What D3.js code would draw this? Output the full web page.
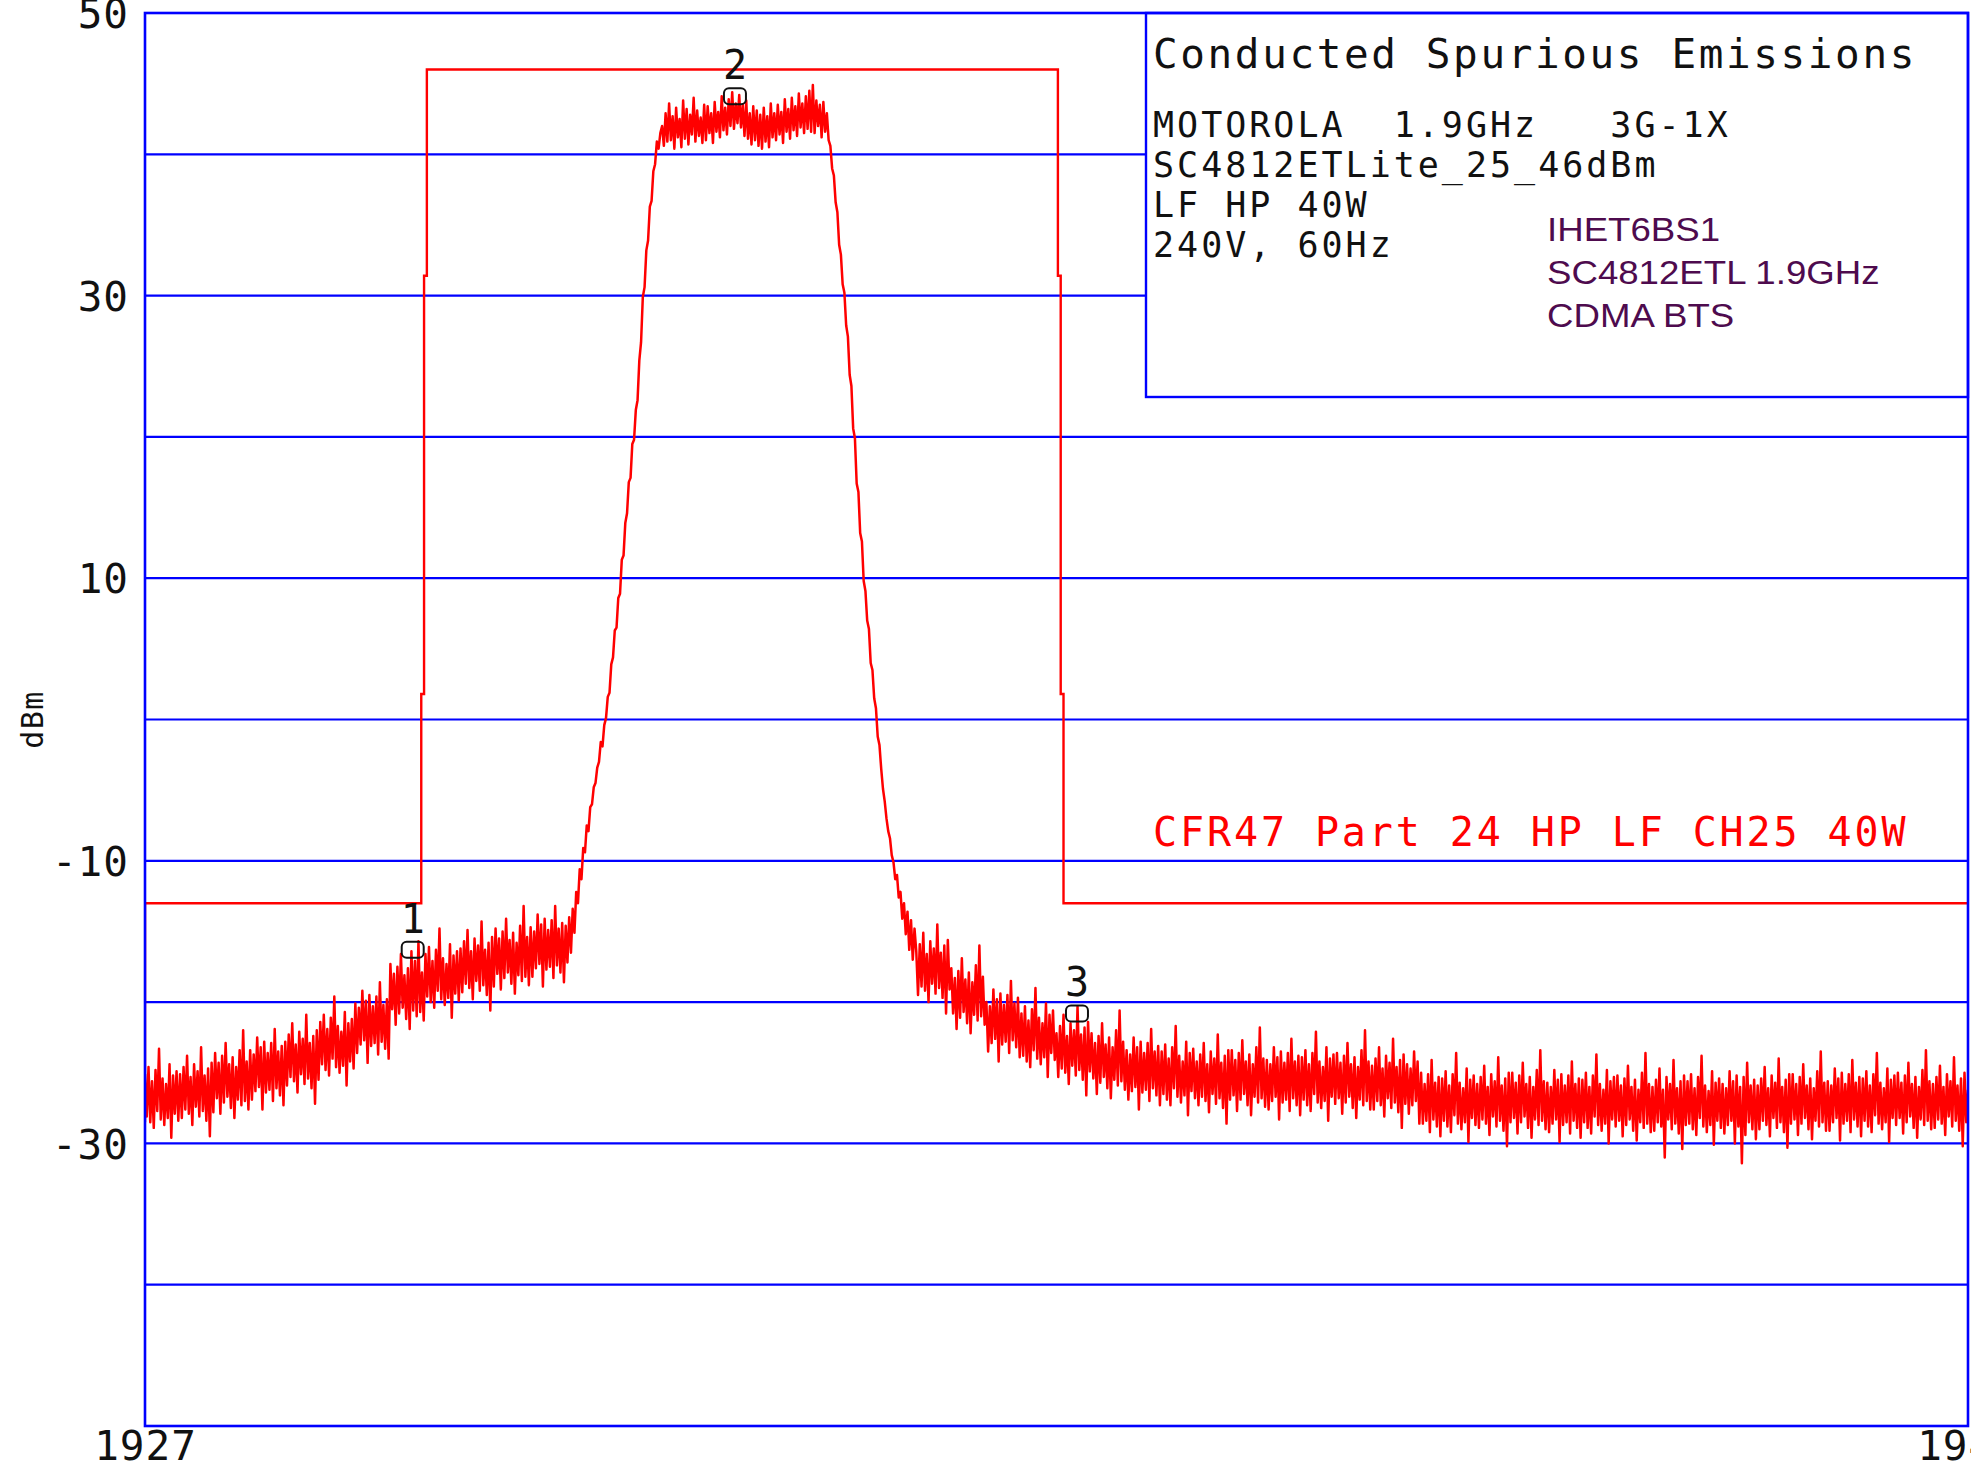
<!DOCTYPE html>
<html>
<head>
<meta charset="utf-8">
<script src="https://cdn.jsdelivr.net/npm/d3@7"></script>
<style>
    html, body { margin: 0; padding: 0; background: #fff; }
    svg { display: block; overflow: hidden; }
    .plotter { font-family: "DejaVu Sans Mono", "Liberation Mono", monospace; fill: #111; white-space: pre; }
    .note { font-family: "Liberation Sans", Arial, sans-serif; fill: #4e0b4e; }
</style>
</head>
<body>
<div id="chart"></div>
<script>
(function () {
    "use strict";

    const width = 1971;
    const height = 1468;

    // Frequency span (MHz) and level span (dBm) of the analyser screen.
    const freqStartMHz = 1927;
    const freqEndMHz = 1940;
    const levelMinDbm = -50;
    const levelMaxDbm = 50;

    const traceStepMHz = 0.0125;
    const traceDbm = [
        -25.1, -28.1, -24.6, -28.5, -25.6, -28.9, -24.8, -27.7, -23.3, -28.3, -25.4, -28.7, -25.8, -28.2, -24.4, -29.6, -25.2, -27.9, -24.9, -28.4,
        -25.1, -28.2, -24.6, -27.6, -23.8, -27.9, -25.3, -28.7, -24.4, -27.4, -24.9, -28.1, -23.2, -27.7, -25.2, -28.4, -24.7, -29.5, -24.3, -27.8,
        -23.6, -26.8, -24.3, -27.9, -23.8, -27.1, -22.9, -26.7, -24.4, -27.5, -23.9, -28.2, -24.6, -26.9, -23.4, -27.3, -22.0, -27.0, -24.2, -27.6,
        -23.4, -26.9, -23.7, -26.3, -22.5, -26.0, -23.2, -27.6, -22.8, -26.4, -23.6, -26.2, -22.9, -27.0, -21.9, -26.1, -23.5, -26.6, -23.1, -27.3,
        -22.8, -25.9, -22.3, -25.3, -21.5, -25.6, -23.0, -26.4, -22.1, -25.1, -22.6, -25.8, -20.9, -25.4, -22.9, -26.1, -22.4, -27.2, -22.0, -25.5,
        -21.4, -24.4, -20.9, -24.8, -21.9, -25.2, -21.1, -24.0, -19.6, -24.6, -21.7, -25.0, -22.1, -24.5, -20.7, -25.9, -21.5, -24.2, -21.2, -24.7,
        -20.1, -23.6, -20.4, -23.0, -19.2, -22.7, -19.9, -24.3, -19.5, -23.1, -20.3, -22.9, -19.6, -23.7, -18.6, -22.8, -20.2, -23.3, -19.8, -24.0,
        -17.3, -20.5, -18.0, -21.6, -17.5, -20.8, -16.6, -20.4, -18.1, -21.2, -17.6, -21.9, -16.4, -20.6, -17.1, -21.0, -15.7, -20.7, -17.9, -21.3,
        -16.6, -19.6, -16.1, -20.0, -17.1, -20.4, -16.3, -19.2, -14.8, -19.8, -16.9, -20.2, -17.3, -19.7, -15.9, -21.1, -16.7, -19.4, -16.4, -19.9,
        -16.2, -19.3, -15.7, -18.7, -14.9, -19.0, -16.4, -19.8, -15.5, -18.5, -16.0, -19.2, -14.3, -18.8, -16.3, -19.5, -15.8, -20.6, -15.4, -18.9,
        -14.8, -18.0, -15.5, -19.1, -15.0, -18.3, -14.1, -17.9, -15.6, -18.7, -15.1, -19.4, -15.8, -18.1, -14.6, -18.5, -13.2, -18.2, -15.4, -18.8,
        -14.7, -18.2, -15.0, -17.6, -13.8, -17.3, -14.5, -18.9, -14.1, -17.7, -14.9, -17.5, -14.2, -18.3, -13.2, -17.4, -14.8, -17.9, -14.4, -18.6,
        -14.6, -17.2, -14.0, -16.5, -13.4, -15.1, -12.2, -13.0, -10.6, -11.3, -9.1, -9.4, -7.5, -7.9, -6.2, -6.0, -4.8, -4.5, -3.4, -3.0,
        -1.6, -1.9, -0.4, 0.1, 1.6, 1.9, 3.9, 4.4, 6.3, 6.5, 8.6, 8.9, 11.3, 11.6, 13.9, 14.6, 16.8, 17.1, 19.5, 19.8,
        21.9, 22.6, 25.4, 26.7, 29.9, 30.6, 33.2, 33.9, 36.3, 36.7, 38.8, 39.3, 40.9, 40.4, 41.5, 42.0, 40.6, 42.9, 40.9, 43.6,
        41.0, 42.7, 40.4, 43.3, 41.2, 42.5, 40.5, 43.8, 41.1, 43.2, 40.7, 42.8, 41.4, 44.0, 40.9, 43.1, 41.3, 42.6, 40.8, 43.5,
        41.0, 43.4, 41.5, 42.9, 40.8, 43.7, 41.6, 43.0, 41.2, 44.1, 41.7, 43.3, 41.4, 43.9, 42.0, 44.4, 41.8, 43.6, 42.2, 44.2,
        41.9, 43.5, 41.3, 43.8, 41.1, 42.9, 40.7, 43.4, 41.0, 43.1, 40.6, 42.8, 40.4, 43.3, 40.9, 42.7, 40.5, 43.6, 41.2, 42.9,
        41.0, 43.5, 41.4, 43.0, 40.8, 43.9, 41.6, 43.2, 41.1, 44.0, 41.7, 43.4, 41.3, 44.3, 41.9, 43.6, 41.5, 44.1, 41.8, 44.5,
        41.6, 44.9, 41.5, 43.8, 42.0, 43.5, 41.2, 43.7, 41.6, 42.9, 41.0, 40.6, 39.0, 38.5, 36.6, 35.9, 33.6, 32.9, 30.8, 30.2,
        27.9, 27.1, 24.4, 23.6, 20.6, 19.9, 16.7, 16.1, 13.2, 12.6, 9.8, 9.1, 7.0, 6.4, 4.0, 3.5, 1.5, 0.8, -1.2, -1.8,
        -3.5, -4.9, -5.8, -7.0, -7.9, -8.4, -9.6, -10.1, -11.3, -11.0, -12.6, -12.2, -14.1, -13.0, -15.2, -13.6, -16.3, -14.2, -17.0, -14.8,
        -16.4, -19.5, -15.9, -18.9, -15.1, -19.2, -16.6, -20.0, -15.7, -18.7, -16.2, -19.4, -14.5, -19.0, -16.5, -19.7, -16.0, -20.8, -15.6, -19.1,
        -17.6, -20.8, -18.3, -21.9, -17.8, -21.1, -16.9, -20.7, -18.4, -21.5, -17.9, -22.2, -18.6, -20.9, -17.4, -21.3, -16.0, -21.0, -18.2, -21.6,
        -20.0, -23.5, -20.3, -22.9, -19.1, -22.6, -19.8, -24.2, -19.4, -23.0, -20.2, -22.8, -19.5, -23.6, -18.5, -22.7, -20.1, -23.2, -19.7, -23.9,
        -20.8, -23.8, -20.3, -24.2, -21.3, -24.6, -20.5, -23.4, -19.0, -24.0, -21.1, -24.4, -21.5, -23.9, -20.1, -25.3, -20.9, -23.6, -20.6, -24.1,
        -22.2, -25.3, -21.7, -24.7, -20.9, -25.0, -22.4, -25.8, -21.5, -24.5, -22.0, -25.2, -20.3, -24.8, -22.3, -25.5, -21.8, -26.6, -21.4, -24.9,
        -22.2, -25.4, -22.9, -26.5, -22.4, -25.7, -21.5, -25.3, -23.0, -26.1, -22.5, -26.8, -23.2, -25.5, -22.0, -25.9, -20.6, -25.6, -22.8, -26.2,
        -23.4, -26.9, -23.7, -26.3, -22.5, -26.0, -23.2, -27.6, -22.8, -26.4, -23.6, -26.2, -22.9, -27.0, -21.9, -26.1, -23.5, -26.6, -23.1, -27.3,
        -23.5, -26.5, -23.0, -26.9, -24.0, -27.3, -23.2, -26.1, -21.7, -26.7, -23.8, -27.1, -24.2, -26.6, -22.8, -28.0, -23.6, -26.3, -23.3, -26.8,
        -24.2, -27.3, -23.7, -26.7, -22.9, -27.0, -24.4, -27.8, -23.5, -26.5, -24.0, -27.2, -22.3, -26.8, -24.3, -27.5, -23.8, -28.6, -23.4, -26.9,
        -23.4, -26.6, -24.1, -27.7, -23.6, -26.9, -22.7, -26.5, -24.2, -27.3, -23.7, -28.0, -24.4, -26.7, -23.2, -27.1, -21.8, -26.8, -24.0, -27.4,
        -24.1, -27.6, -24.4, -27.0, -23.2, -26.7, -23.9, -28.3, -23.5, -27.1, -24.3, -26.9, -23.6, -27.7, -22.6, -26.8, -24.2, -27.3, -23.8, -28.0,
        -23.9, -26.9, -23.4, -27.3, -24.4, -27.7, -23.6, -26.5, -22.1, -27.1, -24.2, -27.5, -24.6, -27.0, -23.2, -28.4, -24.0, -26.7, -23.7, -27.2,
        -23.6, -26.8, -24.3, -27.9, -23.8, -27.1, -22.9, -26.7, -24.4, -27.5, -23.9, -28.2, -24.6, -26.9, -23.4, -27.3, -22.0, -27.0, -24.2, -27.6,
        -24.5, -27.6, -24.0, -27.0, -23.2, -27.3, -24.7, -28.1, -23.8, -26.8, -24.3, -27.5, -22.6, -27.1, -24.6, -27.8, -24.1, -28.9, -23.7, -27.2,
        -24.4, -27.9, -24.7, -27.3, -23.5, -27.0, -24.2, -28.6, -25.0, -28.6, -25.8, -28.4, -25.1, -29.2, -24.1, -28.3, -25.7, -28.8, -25.3, -29.5,
        -25.4, -28.4, -24.9, -28.8, -25.9, -29.2, -25.1, -28.0, -23.6, -28.6, -25.7, -29.0, -26.1, -28.5, -24.7, -29.9, -25.5, -28.2, -25.2, -28.7,
        -25.8, -28.9, -25.3, -28.3, -24.5, -28.6, -26.0, -29.4, -25.1, -28.1, -25.6, -28.8, -23.9, -28.4, -25.9, -29.1, -25.4, -30.2, -25.0, -28.5,
        -25.0, -28.2, -25.7, -29.3, -25.2, -28.5, -24.3, -28.1, -25.8, -28.9, -25.3, -29.6, -26.0, -28.3, -24.8, -28.7, -23.4, -28.4, -25.6, -29.0,
        -25.7, -29.2, -26.0, -28.6, -24.8, -28.3, -25.5, -29.9, -25.1, -28.7, -25.9, -28.5, -25.2, -29.3, -24.2, -28.4, -25.8, -28.9, -25.4, -29.6,
        -25.5, -28.5, -25.0, -28.9, -26.0, -29.3, -25.2, -28.1, -23.7, -28.7, -25.8, -29.1, -26.2, -28.6, -24.8, -30.0, -25.6, -28.3, -25.3, -28.8,
        -25.2, -28.4, -25.9, -29.5, -25.4, -28.7, -24.5, -28.3, -26.0, -29.1, -25.5, -29.8, -26.2, -28.5, -25.0, -28.9, -23.6, -28.6, -25.8, -29.2,
        -26.0, -29.1, -25.5, -28.5, -24.7, -28.8, -26.2, -31.0, -25.3, -28.3, -25.8, -29.0, -24.1, -28.6, -26.1, -29.3, -25.6, -30.4, -25.2, -28.7,
        -25.6, -28.6, -25.1, -29.0, -26.1, -29.4, -25.3, -28.2, -23.8, -28.8, -25.9, -29.2, -26.3, -28.7, -24.9, -30.1, -25.7, -28.4, -25.4, -28.9,
        -25.8, -29.3, -26.1, -28.7, -24.9, -28.4, -25.6, -30.0, -25.2, -28.8, -26.0, -31.4, -25.3, -29.4, -24.3, -28.5, -25.9, -29.0, -25.5, -29.7,
        -25.9, -29.0, -25.4, -28.4, -24.6, -28.7, -26.1, -29.5, -25.2, -28.2, -25.7, -28.9, -24.0, -28.5, -26.0, -29.2, -25.5, -30.3, -25.1, -28.6,
        -25.1, -28.3, -25.8, -29.4, -25.3, -28.6, -24.4, -28.2, -25.9, -29.0, -25.4, -29.7, -26.1, -28.4, -24.9, -28.8, -23.5, -28.5, -25.7, -29.1,
        -25.6, -29.1, -25.9, -28.5, -24.7, -28.2, -25.4, -29.8, -25.0, -28.6, -25.8, -28.4, -25.1, -29.2, -24.1, -28.3, -25.7, -28.8, -25.3, -29.5,
        -25.4, -28.4, -24.9, -28.8, -25.9, -29.2, -25.1, -28.0, -23.6, -28.6, -25.7, -29.0, -26.1, -28.5, -24.7, -29.9, -25.5, -28.2, -25.2, -28.7,
        -25.0, -28.2, -25.7, -29.3, -25.2, -28.5, -24.3, -28.1, -25.8, -28.9, -25.3, -29.6, -26.0, -28.3, -24.8, -28.7, -23.4, -28.4, -25.6, -29.0,
        -25.8, -28.9, -25.3, -28.3, -24.5, -28.6, -26.0, -29.4, -25.1, -28.1, -25.6, -28.8, -23.9, -28.4, -25.9, -29.1, -25.4, -30.2, -25.0, -28.5,
        -26.2
    ];

    // Emission mask (CFR47 Part 24), corner points.
    const maskMHz = [1927, 1927, 1928.97, 1928.97, 1928.99, 1928.99, 1929.01, 1929.01,
        1933.51, 1933.51, 1933.53, 1933.53, 1933.55, 1933.55, 1940];
    const maskDbm = [-28.5, -13, -13, 1.8, 1.8, 31.4, 31.4, 46,
        46, 31.4, 31.4, 1.8, 1.8, -13, -13];

    const markerIds = ["1", "2", "3"];
    const markerMHz = [1928.909, 1931.207, 1933.646];
    const markerDbm = [-16.3, 44.1, -20.8];

    const yLabelTicks = [50, 30, 10, -10, -30];
    const xLabelTicks = [1927, 1940];

    const titleText = "Conducted Spurious Emissions";
    const infoLines = ["MOTOROLA  1.9GHz   3G-1X", "SC4812ETLite_25_46dBm", "LF HP 40W", "240V, 60Hz"];
    const noteLines = ["IHET6BS1", "SC4812ETL 1.9GHz", "CDMA BTS"];
    const limitLabel = "CFR47 Part 24 HP LF CH25 40W";
    const yAxisLabel = "dBm";

    const plot = { left: 145, right: 1968, top: 13, bottom: 1426 };
    const infoBox = { left: 1146, bottom: 397 };
    const blue = "#0000ff";
    const red = "#ff0000";

    const x = d3.scaleLinear([freqStartMHz, freqEndMHz], [plot.left, plot.right]);
    const y = d3.scaleLinear([levelMinDbm, levelMaxDbm], [plot.bottom, plot.top]);

    const svg = d3.select("#chart")
        .append("svg")
        .attr("width", width)
        .attr("height", height)
        .attr("viewBox", `0 0 ${width} ${height}`);

    svg.append("defs").append("clipPath")
        .attr("id", "plot-clip")
        .append("rect")
        .attr("x", plot.left)
        .attr("y", plot.top)
        .attr("width", plot.right - plot.left)
        .attr("height", plot.bottom - plot.top);

    // Horizontal graticule; lines inside the info box stop at its left edge.
    svg.append("g")
        .selectAll("line")
        .data(y.ticks(10))
        .join("line")
        .attr("x1", plot.left)
        .attr("x2", (d) => y(d) < infoBox.bottom ? infoBox.left : plot.right)
        .attr("y1", (d) => y(d))
        .attr("y2", (d) => y(d))
        .attr("stroke", blue)
        .attr("stroke-width", 2.2);

    // Axis labels
    const yAxis = svg.append("g")
        .attr("transform", `translate(${plot.left},0)`)
        .call(d3.axisLeft(y).tickValues(yLabelTicks).tickSize(0).tickPadding(16).tickFormat(String));
    yAxis.select(".domain").remove();
    yAxis.selectAll("text")
        .attr("class", "plotter")
        .attr("font-size", 41)
        .attr("letter-spacing", 1)
        .attr("dy", "0.36em")
        .attr("fill", "#111");

    const xAxis = svg.append("g")
        .attr("transform", `translate(0,${plot.bottom})`)
        .call(d3.axisBottom(x).tickValues(xLabelTicks).tickSize(0).tickPadding(5).tickFormat(String));
    xAxis.select(".domain").remove();
    xAxis.selectAll("text")
        .attr("class", "plotter")
        .attr("font-size", 41)
        .attr("letter-spacing", 1)
        .attr("fill", "#111");

    svg.append("text")
        .attr("class", "plotter")
        .attr("font-size", 30)
        .attr("letter-spacing", 1.5)
        .attr("text-anchor", "middle")
        .attr("transform", `translate(43,${y(0)}) rotate(-90)`)
        .text(yAxisLabel);

    // Limit mask and trace
    const lineGen = d3.line().x((d) => x(d[0])).y((d) => y(d[1]));

    const plotArea = svg.append("g").attr("clip-path", "url(#plot-clip)");

    plotArea.append("path")
        .datum(d3.zip(maskMHz, maskDbm))
        .attr("d", lineGen)
        .attr("fill", "none")
        .attr("stroke", red)
        .attr("stroke-width", 2.4);

    plotArea.append("path")
        .datum(traceDbm.map((v, i) => [freqStartMHz + i * traceStepMHz, v]))
        .attr("d", lineGen)
        .attr("fill", "none")
        .attr("stroke", red)
        .attr("stroke-width", 2.5)
        .attr("stroke-linejoin", "round");

    // Markers
    const marker = svg.append("g")
        .selectAll("g")
        .data(markerIds.map((id, i) => ({ id, f: markerMHz[i], v: markerDbm[i] })))
        .join("g")
        .attr("transform", (d) => `translate(${x(d.f)},${y(d.v)})`);

    marker.append("rect")
        .attr("x", -11)
        .attr("y", -8)
        .attr("width", 22)
        .attr("height", 16)
        .attr("rx", 5)
        .attr("fill", "none")
        .attr("stroke", "#111")
        .attr("stroke-width", 2);

    marker.append("text")
        .attr("class", "plotter")
        .attr("font-size", 40)
        .attr("text-anchor", "middle")
        .attr("y", -17)
        .text((d) => d.id);

    // Info box
    svg.append("rect")
        .attr("x", infoBox.left)
        .attr("y", plot.top)
        .attr("width", plot.right - infoBox.left)
        .attr("height", infoBox.bottom - plot.top)
        .attr("fill", "none")
        .attr("stroke", blue)
        .attr("stroke-width", 2.4);

    svg.append("text")
        .attr("class", "plotter")
        .attr("x", 1153)
        .attr("y", 68)
        .attr("font-size", 41)
        .attr("letter-spacing", 2.6)
        .text(titleText);

    svg.append("g")
        .selectAll("text")
        .data(infoLines)
        .join("text")
        .attr("class", "plotter")
        .attr("x", 1153)
        .attr("y", (d, i) => 137 + i * 40)
        .attr("font-size", 35)
        .attr("letter-spacing", 3)
        .text((d) => d);

    svg.append("g")
        .selectAll("text")
        .data(noteLines)
        .join("text")
        .attr("class", "note")
        .attr("font-size", 33)
        .attr("transform", (d, i) => `translate(1547,${241 + i * 43}) scale(1.11,1)`)
        .text((d) => d);

    svg.append("text")
        .attr("class", "plotter")
        .attr("x", 1153)
        .attr("y", 846)
        .attr("font-size", 40)
        .attr("letter-spacing", 2.9)
        .style("fill", red)
        .text(limitLabel);

    // Plot frame on top
    svg.append("rect")
        .attr("x", plot.left)
        .attr("y", plot.top)
        .attr("width", plot.right - plot.left)
        .attr("height", plot.bottom - plot.top)
        .attr("fill", "none")
        .attr("stroke", blue)
        .attr("stroke-width", 2.6);
}());
</script>
</body>
</html>
